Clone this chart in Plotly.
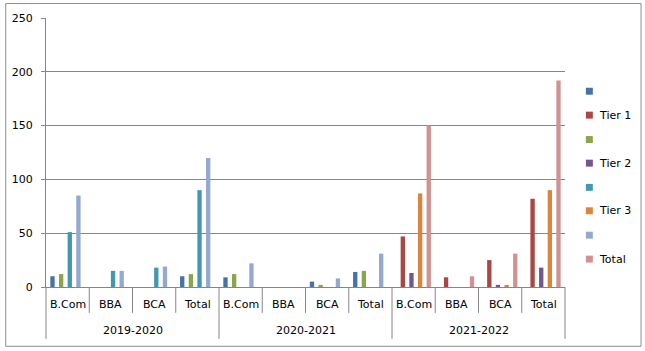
import plotly.graph_objects as go

programs = ["B.Com", "BBA", "BCA", "Total"]
years = ["2019-2020", "2020-2021", "2021-2022"]

series_names = ["", "Tier 1", "", "Tier 2", "", "Tier 3", "", "Total"]
series_colors = ["#4572A7", "#AA4643", "#89A54E", "#71588F",
                 "#4198AF", "#DB843D", "#93A9CF", "#D19392"]

s_blue = [10, 0, 0, 10, 9, 0, 5, 14, 0, 0, 0, 0]
s_tier1 = [0, 0, 0, 0, 0, 0, 0, 0, 47, 9, 25, 82]
s_green = [12, 0, 0, 12, 12, 0, 2, 15, 0, 0, 0, 0]
s_tier2 = [0, 0, 0, 0, 0, 0, 0, 0, 13, 0, 2, 18]
s_teal = [51, 15, 18, 90, 0, 0, 0, 0, 0, 0, 0, 0]
s_tier3 = [0, 0, 0, 0, 0, 0, 0, 0, 87, 0, 1, 90]
s_light = [85, 15, 19, 120, 22, 0, 8, 31, 0, 0, 0, 0]
s_total = [0, 0, 0, 0, 0, 0, 0, 0, 150, 10, 31, 192]

series_values = [s_blue, s_tier1, s_green, s_tier2, s_teal, s_tier3, s_light, s_total]

W, H = 645, 351
L, R, T, B = 43, 565, 17, 287
n_cat = len(programs) * len(years)
FONT = "DejaVu Sans"
GRID = "#868686"

def px_x(px):
    return (px - L) / (R - L)

def px_y(py):
    return (B - py) / (B - T)

xs = list(range(n_cat))
fig = go.Figure()
for name, color, vals in zip(series_names, series_colors, series_values):
    fig.add_trace(go.Bar(x=xs, y=vals, name=name, marker=dict(color=color, line=dict(width=0)),
                         showlegend=False))

shapes = []
annotations = []

# category labels and dividers
for i in range(n_cat):
    annotations.append(dict(x=i, y=px_y(305), xref="x", yref="paper", text=programs[i % len(programs)],
                            showarrow=False, font=dict(family=FONT, size=11, color="#000"),
                            xanchor="center", yanchor="middle"))
for k in range(n_cat + 1):
    xp = k / n_cat
    bottom = 339 if k % len(programs) == 0 else 313
    shapes.append(dict(type="line", xref="paper", yref="paper", x0=xp, x1=xp,
                       y0=0, y1=px_y(bottom), line=dict(color=GRID, width=1)))
for j, yr in enumerate(years):
    center = j * len(programs) + (len(programs) - 1) / 2
    annotations.append(dict(x=center, y=px_y(331), xref="x", yref="paper", text=yr,
                            showarrow=False, font=dict(family=FONT, size=11, color="#000"),
                            xanchor="center", yanchor="middle"))

# legend
leg_y = [90.5, 114.5, 139, 162.7, 187, 210.5, 235, 259]
for name, color, cy in zip(series_names, series_colors, leg_y):
    shapes.append(dict(type="rect", xref="paper", yref="paper",
                       x0=px_x(586), x1=px_x(593), y0=px_y(cy + 3.5), y1=px_y(cy - 3.5),
                       fillcolor=color, line=dict(width=0)))
    if name:
        annotations.append(dict(x=px_x(597), y=px_y(cy), xref="paper", yref="paper", text=name,
                                showarrow=False, font=dict(family=FONT, size=11, color="#000"),
                                xanchor="left", yanchor="middle"))

# outer chart border
shapes.append(dict(type="rect", xref="paper", yref="paper",
                   x0=px_x(2.5), x1=px_x(641.5), y0=px_y(346.5), y1=px_y(2.5),
                   line=dict(color="#8C8C8C", width=1), fillcolor="rgba(0,0,0,0)", layer="below"))

fig.update_layout(
    width=W, height=H,
    margin=dict(l=L, r=W - R, t=T, b=H - B),
    paper_bgcolor="white", plot_bgcolor="white",
    barmode="group", bargap=0.2, bargroupgap=0,
    showlegend=False,
    shapes=shapes, annotations=annotations,
    xaxis=dict(range=[-0.5, n_cat - 0.5], showticklabels=False, ticks="", showgrid=False,
               zeroline=False, showline=True, linecolor=GRID, linewidth=1, fixedrange=True),
    yaxis=dict(range=[0, 250], tickvals=[0, 50, 100, 150, 200, 250], showgrid=True,
               gridcolor=GRID, gridwidth=1, zeroline=False, showline=True, linecolor=GRID,
               linewidth=1, ticks="outside", ticklen=4, tickcolor=GRID,
               ticklabelstandoff=6,
               tickfont=dict(family=FONT, size=11, color="#000"), fixedrange=True),
)

fig.write_html("out.html")
